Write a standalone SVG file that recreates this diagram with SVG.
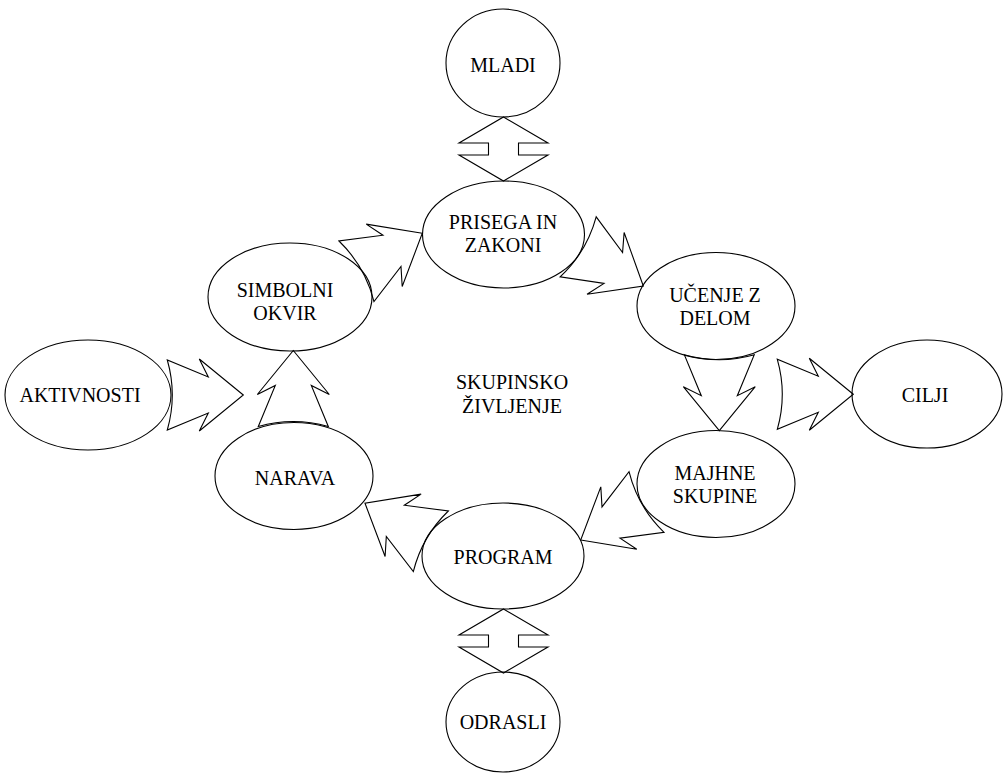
<svg xmlns="http://www.w3.org/2000/svg" xmlns:xlink="http://www.w3.org/1999/xlink" width="1003" height="776" viewBox="0 0 1003 776">
<style>
.n{fill:none;stroke:#000;stroke-width:1.1}
.a{fill:none;stroke:#000;stroke-width:1.1;stroke-linejoin:miter}
text{font-size:20px;fill:#000;text-anchor:middle}
</style>
<defs>
<path id="arr" d="M0,0 L-44,-36 L-35,-18 L-76,-35 Q-66,0 -76,35 L-35,18 L-44,36 Z"/>
<path id="dbl" d="M0,0 L44.5,26 L15,26 L15,38 L44.5,38 L0,64 L-44.5,38 L-15,38 L-15,26 L-44.5,26 Z"/>
</defs>
<rect width="1003" height="776" fill="#fff"/>
<g id="connectors" class="a">
<use xlink:href="#dbl" transform="translate(503.5,117)"/>
<use xlink:href="#dbl" transform="translate(503.5,609)"/>
<use xlink:href="#arr" transform="translate(422.3,233.3) rotate(-30)"/>
<use xlink:href="#arr" transform="translate(643.3,286) rotate(31)"/>
<use xlink:href="#arr" transform="translate(719.3,430.7) rotate(90)"/>
<use xlink:href="#arr" transform="translate(853.3,394.3)"/>
<use xlink:href="#arr" transform="translate(580.7,540) rotate(150)"/>
<use xlink:href="#arr" transform="translate(365,503.3) rotate(210)"/>
<use xlink:href="#arr" transform="translate(293.3,350.5) rotate(-90)"/>
<use xlink:href="#arr" transform="translate(243.3,395)"/>
</g>
<g font-family="Liberation Serif">
<g id="mladi"><ellipse class="n" cx="503" cy="63" rx="57" ry="54"/><text font-family="Liberation Serif" x="503" y="72">MLADI</text></g>
<g id="prisega"><ellipse class="n" cx="503.5" cy="234.5" rx="81" ry="53.5"/><text font-family="Liberation Serif" x="503" y="229">PRISEGA IN</text><text font-family="Liberation Serif" x="503" y="252">ZAKONI</text></g>
<g id="simbolni"><ellipse class="n" cx="290" cy="297" rx="82" ry="54"/><text font-family="Liberation Serif" x="285" y="297">SIMBOLNI</text><text font-family="Liberation Serif" x="285" y="320">OKVIR</text></g>
<g id="ucenje"><ellipse class="n" cx="716" cy="306" rx="79" ry="53.5"/><text font-family="Liberation Serif" x="715" y="302">UČENJE Z</text><text font-family="Liberation Serif" x="715" y="325">DELOM</text></g>
<g id="aktivnosti"><ellipse class="n" cx="88" cy="395" rx="83" ry="55"/><text font-family="Liberation Serif" x="80" y="402">AKTIVNOSTI</text></g>
<g id="center"><text font-family="Liberation Serif" x="512" y="389">SKUPINSKO</text><text font-family="Liberation Serif" x="512" y="413">ŽIVLJENJE</text></g>
<g id="cilji"><ellipse class="n" cx="927" cy="394" rx="75" ry="54"/><text font-family="Liberation Serif" x="925" y="402">CILJI</text></g>
<g id="narava"><ellipse class="n" cx="294" cy="476" rx="79" ry="53.5"/><text font-family="Liberation Serif" x="295" y="485">NARAVA</text></g>
<g id="majhne"><ellipse class="n" cx="716" cy="484" rx="79" ry="53.5"/><text font-family="Liberation Serif" x="715" y="480">MAJHNE</text><text font-family="Liberation Serif" x="715" y="503">SKUPINE</text></g>
<g id="program"><ellipse class="n" cx="503" cy="556" rx="81" ry="53"/><text font-family="Liberation Serif" x="503" y="564">PROGRAM</text></g>
<g id="odrasli"><ellipse class="n" cx="503" cy="722" rx="57" ry="50"/><text font-family="Liberation Serif" x="503" y="729">ODRASLI</text></g>
</g>
</svg>
